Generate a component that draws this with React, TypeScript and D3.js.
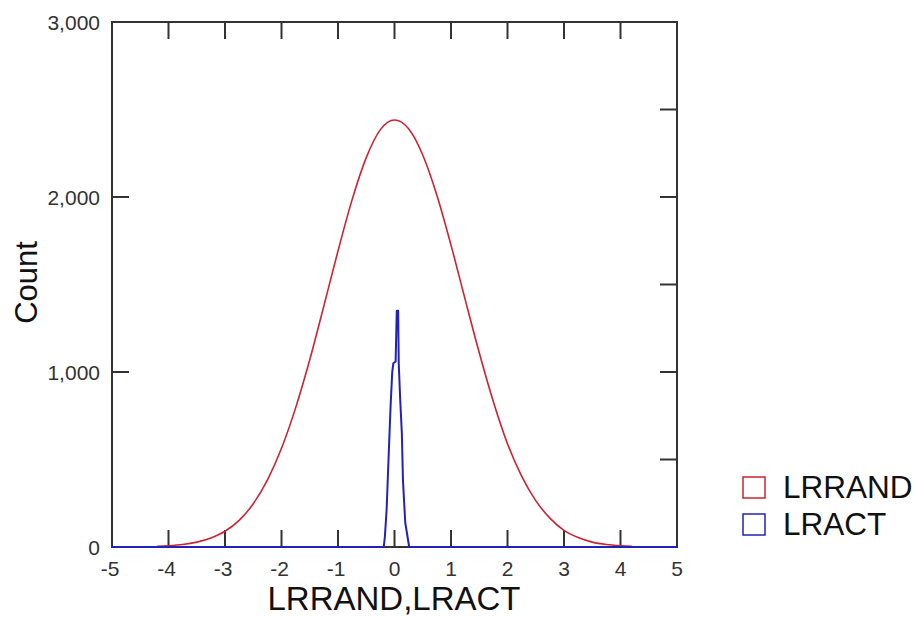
import { useEffect, useRef } from 'react';
import * as d3 from 'd3';

// LRRAND curve
const randX = [-4.2, -4, -3.75, -3.5, -3.25, -3, -2.75, -2.5, -2.25, -2, -1.75, -1.5, -1.25, -1, -0.75, -0.5, -0.25, 0,
    0.25, 0.5, 0.75, 1, 1.25, 1.5, 1.75, 2, 2.25, 2.5, 2.75, 3, 3.25, 3.5, 3.75, 4, 4.2];
const randCount = [4, 7, 14, 28, 52, 90, 152, 247, 382, 564, 795, 1070, 1378, 1692, 1985, 2225, 2385, 2440,
    2390, 2240, 2010, 1725, 1415, 1110, 830, 590, 405, 265, 165, 95, 54, 28, 14, 7, 4];

// LRACT spike
const actX = [-5, -0.19, -0.17, -0.14, -0.12, -0.1, -0.07, -0.04, -0.02, 0.02, 0.04, 0.065, 0.075, 0.1, 0.13, 0.15, 0.19, 0.26, 5];
const actCount = [0, 0, 60, 210, 380, 550, 800, 1000, 1050, 1060, 1350, 1350, 1050, 850, 650, 380, 140, 0, 0];

const xTicks = [-5, -4, -3, -2, -1, 0, 1, 2, 3, 4, 5];
const yTicks = [0, 1000, 2000, 3000];
const yMinorTicks = [500, 1000, 1500, 2000, 2500];

const seriesNames = ['LRRAND', 'LRACT'];
const seriesColors = ['#cc2233', '#2222bb'];

const App = () => {
    const svgRef = useRef<SVGSVGElement>(null);

    useEffect(() => {
        const W = 922, H = 617;
        const left = 112, right = 677, top = 22, bottom = 547;

        const svg = d3.select(svgRef.current);
        svg.selectAll('*').remove();
        svg.attr('width', W).attr('height', H);

        const x = d3.scaleLinear().domain([-5, 5]).range([left, right]);
        const y = d3.scaleLinear().domain([0, 3000]).range([bottom, top]);

        const frame = '#333';
        const tickLen = 17;
        const font = 'Liberation Sans, Arial, sans-serif';
        const g = svg.append('g');

        // frame
        g.append('rect')
            .attr('x', left).attr('y', top)
            .attr('width', right - left).attr('height', bottom - top)
            .attr('fill', 'none').attr('stroke', frame).attr('stroke-width', 2);

        // inward ticks, bottom and top
        const inner = xTicks.slice(1, -1);
        g.selectAll('.xb').data(inner).enter().append('line')
            .attr('x1', d => x(d)).attr('x2', d => x(d))
            .attr('y1', bottom).attr('y2', bottom - tickLen)
            .attr('stroke', frame).attr('stroke-width', 2);
        g.selectAll('.xt').data(inner).enter().append('line')
            .attr('x1', d => x(d)).attr('x2', d => x(d))
            .attr('y1', top).attr('y2', top + tickLen)
            .attr('stroke', frame).attr('stroke-width', 2);

        // left and right ticks
        g.selectAll('.yl').data(yTicks.slice(1, -1)).enter().append('line')
            .attr('x1', left).attr('x2', left + tickLen)
            .attr('y1', d => y(d)).attr('y2', d => y(d))
            .attr('stroke', frame).attr('stroke-width', 2);
        g.selectAll('.yr').data(yMinorTicks).enter().append('line')
            .attr('x1', right).attr('x2', right - tickLen)
            .attr('y1', d => y(d)).attr('y2', d => y(d))
            .attr('stroke', frame).attr('stroke-width', 2);

        // tick labels
        const fmt = d3.format(',');
        g.selectAll('.xl').data(xTicks).enter().append('text')
            .attr('x', d => x(d) - (d < 0 ? 2 : 0)).attr('y', bottom + 29)
            .attr('text-anchor', 'middle')
            .style('font-family', font)
            .style('font-size', '21px').style('fill', '#333')
            .text(d => d);
        g.selectAll('.yl2').data(yTicks).enter().append('text')
            .attr('x', left - 12).attr('y', d => y(d)).attr('dy', '0.36em')
            .attr('text-anchor', 'end')
            .style('font-family', font)
            .style('font-size', '21px').style('fill', '#333')
            .text(d => fmt(d));

        // axis titles
        g.append('text')
            .attr('x', 394).attr('y', 610)
            .attr('text-anchor', 'middle')
            .style('font-family', font)
            .style('font-size', '33px').style('fill', '#111')
            .text('LRRAND,LRACT');
        g.append('text')
            .attr('transform', `translate(37,${(240 + 325) / 2}) rotate(-90)`)
            .attr('text-anchor', 'middle')
            .style('font-family', font)
            .style('font-size', '31px').style('fill', '#111')
            .text('Count');

        // lines
        const randData = randX.map((v, i) => [v, randCount[i]] as [number, number]);
        const actData = actX.map((v, i) => [v, actCount[i]] as [number, number]);

        g.append('path')
            .datum(randData)
            .attr('d', d3.line().x(d => x(d[0])).y(d => y(d[1])).curve(d3.curveMonotoneX))
            .attr('fill', 'none').attr('stroke', seriesColors[0]).attr('stroke-width', 1.6);

        g.append('path')
            .datum(actData)
            .attr('d', d3.line().x(d => x(d[0])).y(d => y(d[1])))
            .attr('fill', 'none').attr('stroke', seriesColors[1]).attr('stroke-width', 2)
            .attr('stroke-linejoin', 'round');

        // legend
        const legend = g.selectAll('.legend').data(seriesNames).enter().append('g')
            .attr('transform', (d, i) => `translate(743,${477 + i * 37})`);
        legend.append('rect')
            .attr('width', 22).attr('height', 21)
            .attr('fill', 'white')
            .attr('stroke', (d, i) => seriesColors[i]).attr('stroke-width', 1.5);
        legend.append('text')
            .attr('x', 40).attr('y', 21)
            .style('font-family', font)
            .style('font-size', '31.5px').style('fill', '#111')
            .text(d => d);
    }, []);

    return (
        <svg ref={svgRef} style={{ position: 'absolute', left: 0, top: 0, background: 'white' }}></svg>
    );
};

export default App;
